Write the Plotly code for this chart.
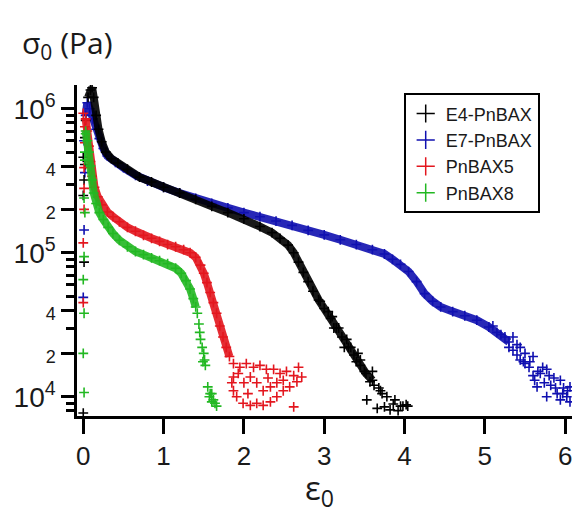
import math
import plotly.graph_objects as go

# ---------------- data ----------------
series_names = ["E4-PnBAX", "E7-PnBAX", "PnBAX5", "PnBAX8"]
series_colors = ["#000000", "#1010b0", "#e3161e", "#22b822"]

# sparse loading points close to strain 0
e4_rise_x = [0.0, 0.01, 0.0, 0.01, 0.02, 0.0, 0.02, 0.03]
e4_rise_y = [7.7e3, 8.6e4, 2.5e5, 3.2e5, 4.1e5, 4.6e5, 6.3e5, 8.3e5]
e7_rise_x = [0.0, 0.01, 0.02, 0.01]
e7_rise_y = [4.9e4, 1.44e5, 3.6e5, 6.0e5]
p5_rise_x = [0.0, 0.0, 0.01, 0.01, 0.01, 0.02, 0.0, 0.02]
p5_rise_y = [4.5e4, 1.17e5, 2.0e5, 2.8e5, 3.9e5, 5.8e5, 9.3e5, 7.5e5]
p8_rise_x = [0.01, 0.0, 0.01, 0.0, 0.01, 0.02, 0.01, 0.02, 0.02, 0.03]
p8_rise_y = [1.07e4, 2.0e4, 3.8e4, 6.5e4, 9.4e4, 1.9e5, 2.4e5, 4.4e5, 5.0e5, 6.7e5]

# main (dense) branches
e4_x = [0.06, 0.09, 0.11, 0.13, 0.16, 0.19, 0.23, 0.28, 0.35, 0.43, 0.55, 0.70,
        0.85, 1.00, 1.20, 1.40, 1.60, 1.80, 2.00, 2.20, 2.35, 2.45, 2.55, 2.62,
        2.68, 2.74, 2.80, 2.86, 2.93, 3.00, 3.08, 3.15, 3.22, 3.30, 3.37, 3.45,
        3.52, 3.60]
e4_y = [1.2e6, 1.35e6, 1.4e6, 1.2e6, 9.0e5, 7.2e5, 5.9e5, 5.0e5, 4.5e5, 4.2e5,
        3.8e5, 3.35e5, 3.1e5, 2.85e5, 2.6e5, 2.35e5, 2.1e5, 1.9e5, 1.72e5, 1.52e5,
        1.38e5, 1.26e5, 1.13e5, 1.0e5, 8.6e4, 7.3e4, 6.3e4, 5.4e4, 4.7e4, 4.1e4,
        3.5e4, 3.0e4, 2.6e4, 2.2e4, 1.95e4, 1.65e4, 1.45e4, 1.3e4]

e7_x = [0.03, 0.05, 0.08, 0.12, 0.16, 0.20, 0.25, 0.30, 0.40, 0.50, 0.65, 0.80,
        1.00, 1.20, 1.40, 1.60, 1.80, 2.00, 2.20, 2.40, 2.60, 2.80, 3.00, 3.20,
        3.40, 3.60, 3.75, 3.85, 3.95, 4.05, 4.15, 4.25, 4.35, 4.45, 4.60, 4.75,
        4.90, 5.05, 5.20, 5.30]
e7_y = [9.0e5, 1.1e6, 1.0e6, 8.5e5, 7.2e5, 6.2e5, 5.3e5, 4.7e5, 4.25e5, 3.9e5,
        3.45e5, 3.15e5, 2.85e5, 2.6e5, 2.38e5, 2.2e5, 2.05e5, 1.9e5, 1.78e5, 1.66e5,
        1.55e5, 1.43e5, 1.33e5, 1.23e5, 1.14e5, 1.05e5, 9.8e4, 9.0e4, 8.3e4, 7.4e4,
        6.3e4, 5.2e4, 4.6e4, 4.2e4, 3.9e4, 3.65e4, 3.4e4, 3.05e4, 2.7e4, 2.4e4]

p5_x = [0.03, 0.05, 0.07, 0.09, 0.11, 0.14, 0.18, 0.23, 0.30, 0.37, 0.45, 0.55,
        0.65, 0.75, 0.85, 0.95, 1.05, 1.15, 1.25, 1.33, 1.40, 1.46, 1.50, 1.54,
        1.58, 1.62, 1.66, 1.70, 1.74, 1.78, 1.82]
p5_y = [8.5e5, 7.0e5, 5.5e5, 4.3e5, 3.4e5, 2.85e5, 2.45e5, 2.15e5, 1.92e5, 1.78e5,
        1.64e5, 1.5e5, 1.41e5, 1.32e5, 1.26e5, 1.2e5, 1.14e5, 1.1e5, 1.05e5, 1.0e5,
        9.3e4, 8.2e4, 7.2e4, 6.2e4, 5.3e4, 4.5e4, 3.8e4, 3.1e4, 2.6e4, 2.2e4, 1.9e4]

p8_x = [0.03, 0.05, 0.07, 0.09, 0.11, 0.13, 0.16, 0.20, 0.25, 0.31, 0.37, 0.45,
        0.55, 0.65, 0.75, 0.85, 0.95, 1.05, 1.15, 1.22, 1.28, 1.33, 1.37, 1.40]
p8_y = [7.0e5, 6.0e5, 5.0e5, 4.0e5, 3.2e5, 2.6e5, 2.2e5, 1.9e5, 1.7e5, 1.5e5,
        1.36e5, 1.22e5, 1.1e5, 1.02e5, 9.7e4, 9.2e4, 8.8e4, 8.4e4, 7.8e4, 7.2e4,
        6.4e4, 5.6e4, 4.8e4, 4.2e4]

# noisy tails
e4_tail_x = [3.45, 3.50, 3.53, 3.57, 3.60, 3.62, 3.66, 3.68, 3.70, 3.72, 3.75,
             3.78, 3.82, 3.86, 3.88, 3.92, 3.95, 3.98, 4.02, 4.04, 3.05, 3.12,
             3.18, 3.25, 3.33, 3.40, 2.95, 3.10, 3.28, 3.42]
e4_tail_y = [1.8e4, 1.5e4, 9.5e3, 1.27e4, 1.5e4, 1.2e4, 8.3e3, 1.15e4, 1.1e4,
             1.05e4, 8.5e3, 1.0e4, 8.1e3, 8.9e3, 9.5e3, 8.0e3, 8.6e3, 8.6e3,
             8.8e3, 8.6e3, 3.9e4, 3.0e4, 3.0e4, 2.2e4, 2.2e4, 1.75e4, 4.6e4,
             3.6e4, 2.5e4, 2.0e4]

e7_tail_x = [5.30, 5.35, 5.40, 5.44, 5.44, 5.50, 5.55, 5.60, 5.60, 5.65, 5.69,
             5.72, 5.77, 5.77, 5.82, 5.86, 5.90, 5.94, 5.94, 5.98, 6.02, 6.06,
             6.06, 5.50, 5.62, 5.35, 5.40, 5.48, 5.56, 5.66, 5.74, 5.80, 5.88,
             5.97, 6.03, 5.25, 5.15, 5.10]
e7_tail_y = [2.2e4, 2.6e4, 2.3e4, 2.2e4, 1.8e4, 2.0e4, 1.6e4, 1.9e4, 1.4e4, 1.17e4,
             1.45e4, 1.6e4, 1.55e4, 1.0e4, 1.2e4, 1.35e4, 1.05e4, 1.3e4, 9.5e3,
             1.15e4, 1.0e4, 1.17e4, 9.2e3, 1.7e4, 1.3e4, 2.1e4, 1.95e4, 1.75e4,
             1.75e4, 1.5e4, 1.25e4, 1.4e4, 1.15e4, 1.05e4, 1.1e4, 2.6e4, 2.8e4,
             3.1e4]

p5_tail_x = [1.87, 1.95, 2.03, 2.12, 2.20, 2.28, 2.37, 2.45, 2.53, 2.62, 2.72, 2.66,
             2.57, 2.49, 2.41, 2.33, 2.24, 2.16, 2.08, 1.99, 1.91, 1.87, 1.85, 1.87,
             2.00, 2.08, 2.16, 2.24, 2.33, 2.41, 2.49, 2.62, 1.93, 2.05, 2.30, 2.68]
p5_tail_y = [1.7e4, 1.6e4, 1.7e4, 1.6e4, 1.65e4, 1.55e4, 1.55e4, 1.45e4, 1.5e4,
             1.4e4, 1.37e4, 1.27e4, 1.17e4, 1.1e4, 1.0e4, 9.2e3, 8.7e3, 9.0e3, 8.7e3,
             9.0e3, 1.0e4, 1.1e4, 1.25e4, 1.37e4, 1.25e4, 1.37e4, 1.25e4, 1.1e4,
             1.17e4, 1.25e4, 1.3e4, 8.5e3, 1.45e4, 1.05e4, 1.35e4, 1.6e4]

p8_tail_x = [1.42, 1.44, 1.45, 1.46, 1.48, 1.49, 1.50, 1.51, 1.52, 1.55, 1.57,
             1.58, 1.60, 1.60, 1.62, 1.64, 1.66]
p8_tail_y = [3.8e4, 3.2e4, 2.8e4, 2.5e4, 2.2e4, 1.75e4, 2.0e4, 1.8e4, 1.65e4,
             1.17e4, 1.0e4, 1.05e4, 9.2e3, 1.05e4, 9.5e3, 9.0e3, 8.6e3]

x_tickvals = [0, 1, 2, 3, 4, 5, 6]
y_major = [1e4, 1e5, 1e6]
y_labeled_minor = [2e4, 4e4, 2e5, 4e5]
y_minor = [k * 10 ** p for p in (3, 4, 5) for k in range(2, 10)]

# ---------------- figure ----------------
fig = go.Figure()

groups = {
    "E7-PnBAX": (e7_rise_x, e7_rise_y, e7_x, e7_y, e7_tail_x, e7_tail_y),
    "E4-PnBAX": (e4_rise_x, e4_rise_y, e4_x, e4_y, e4_tail_x, e4_tail_y),
    "PnBAX5": (p5_rise_x, p5_rise_y, p5_x, p5_y, p5_tail_x, p5_tail_y),
    "PnBAX8": (p8_rise_x, p8_rise_y, p8_x, p8_y, p8_tail_x, p8_tail_y),
}
color_of = dict(zip(series_names, series_colors))

for name, (rx, ry, bx, by, tx, ty) in groups.items():
    c = color_of[name]
    fig.add_trace(go.Scatter(x=bx, y=by, mode="lines", showlegend=False,
                             line=dict(color=c, width=8), opacity=0.9,
                             hoverinfo="skip"))
    allx = rx + bx + tx
    ally = ry + by + ty
    fig.add_trace(go.Scatter(x=allx, y=ally, mode="markers", showlegend=False,
                             marker=dict(symbol="cross-thin", size=7,
                                         line=dict(color=c, width=1.6))))

for i, name in enumerate(series_names):
    c = color_of[name]
    fig.add_trace(go.Scatter(x=[None], y=[None], mode="markers", name=name,
                             legendrank=i + 1,
                             marker=dict(symbol="cross-thin", size=13,
                                         line=dict(color=c, width=1.5))))


def ylab(v):
    p = math.floor(math.log10(v) + 1e-9)
    m = v / 10 ** p
    if abs(m - 1) < 1e-6:
        return f"10<sup>{p}</sup>"
    return f"<span style='font-size:18px'>{int(round(m))}</span>"


yticks = sorted(y_major + y_labeled_minor)

fig.update_layout(
    width=572, height=517,
    margin=dict(l=77, r=0, t=85, b=101),
    paper_bgcolor="white", plot_bgcolor="white",
    font=dict(family="Liberation Sans, Arial, sans-serif", color="#1a1a1a"),
    showlegend=True,
    legend=dict(x=0.66, y=0.975, xanchor="left", yanchor="top",
                bordercolor="black", borderwidth=2, bgcolor="white",
                font=dict(size=18, color="#1a1a1a"),
                tracegroupgap=0, itemwidth=30),
    xaxis=dict(range=[-0.078, 6.085], showgrid=False, zeroline=False,
               showline=True, linecolor="black", linewidth=2.5,
               ticks="outside", ticklen=15, tickwidth=2.5, tickcolor="black",
               tickvals=x_tickvals, ticktext=[str(v) for v in x_tickvals],
               ticklabeloverflow="allow",
               tickfont=dict(size=26)),
    yaxis=dict(type="log", range=[3.866, 6.165], showgrid=False, zeroline=False,
               showline=True, linecolor="black", linewidth=2.5,
               ticks="outside", ticklen=13, tickwidth=2.5, tickcolor="black",
               tickvals=yticks, ticktext=[ylab(v) for v in yticks],
               tickfont=dict(size=28),
               minor=dict(tickvals=y_minor, ticks="outside", ticklen=8,
                          tickwidth=2.5, tickcolor="black", showgrid=False)),
    annotations=[
        dict(text="σ<sub>0</sub> (Pa)", xref="paper", yref="paper",
             x=-0.115, y=1.125, xanchor="left", yanchor="middle",
             showarrow=False, font=dict(size=30, family="Open Sans, sans-serif")),
        dict(text="ε<sub>0</sub>", xref="paper", yref="paper",
             x=0.49, y=-0.222, xanchor="center", yanchor="middle",
             showarrow=False, font=dict(size=33, family="Open Sans, sans-serif")),
    ],
)

fig.write_html("out.html")
